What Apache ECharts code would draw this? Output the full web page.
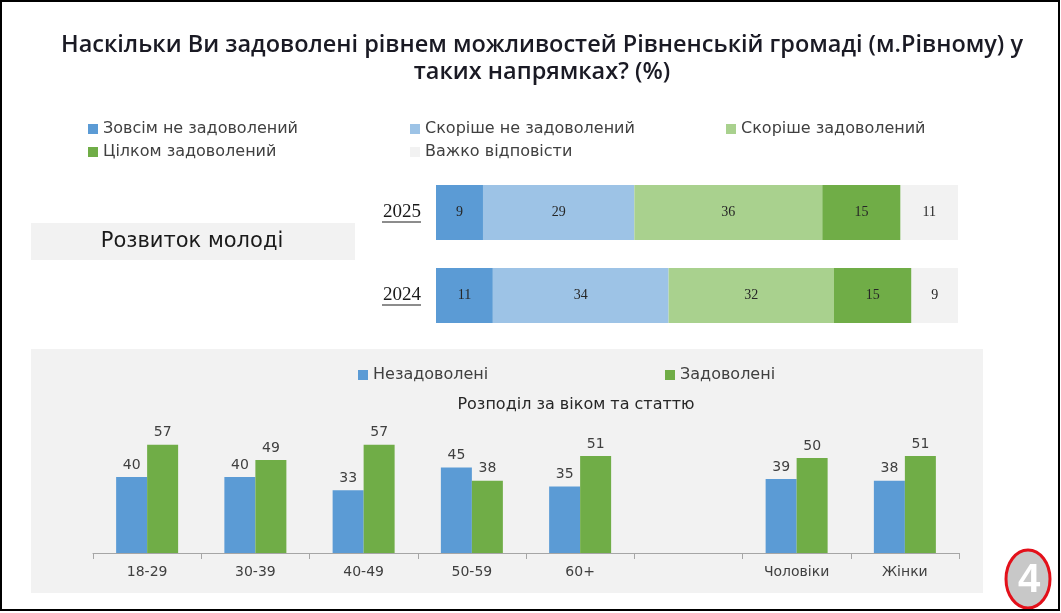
<!DOCTYPE html>
<html>
<head>
<meta charset="utf-8">
<script src="https://cdn.jsdelivr.net/npm/echarts@6/dist/echarts.min.js"></script>
<style>
html,body{margin:0;padding:0;background:#fff;}
#c{width:1061px;height:613px;}
</style>
</head>
<body>
<div id="c"></div>
<script>
// ---- Data ----
const years = ['2025', '2024'];
const topNames = ['Зовсім не задоволений', 'Скоріше не задоволений', 'Скоріше задоволений', 'Цілком задоволений', 'Важко відповісти'];
const veryDissatisfied = [9, 11];
const ratherDissatisfied = [29, 34];
const ratherSatisfied = [36, 32];
const fullySatisfied = [15, 15];
const hardToSay = [11, 9];

const groups = ['18-29', '30-39', '40-49', '50-59', '60+', '', 'Чоловіки', 'Жінки'];
const dissatisfied = [40, 40, 33, 45, 35, null, 39, 38];
const satisfied = [57, 49, 57, 38, 51, null, 50, 51];

const bottomNames = ['Незадоволені', 'Задоволені'];
const topic = 'Розвиток молоді';
const subtitle = 'Розподіл за віком та статтю';
const titleText = 'Наскільки Ви задоволені рівнем можливостей Рівненській громаді (м.Рівному) у\nтаких напрямках? (%)';

// ---- Build ----
const topColors = ['#5B9BD5', '#9DC3E6', '#A9D18E', '#70AD47', '#F2F2F2'];
const topValues = [veryDissatisfied, ratherDissatisfied, ratherSatisfied, fullySatisfied, hardToSay];
const rowTotals = years.map((_, i) => topValues.reduce((s, arr) => s + arr[i], 0));

const topSeries = topNames.map((name, k) => ({
  name: name,
  type: 'bar',
  stack: 'total',
  xAxisIndex: 0,
  yAxisIndex: 0,
  barWidth: 55,
  itemStyle: { color: topColors[k] },
  label: {
    show: true,
    position: 'inside',
    color: '#262626',
    fontFamily: 'Liberation Serif',
    fontSize: 14,
    formatter: p => topValues[k][p.dataIndex]
  },
  emphasis: { disabled: true },
  data: topValues[k].map((v, i) => v / rowTotals[i] * 100)
}));

const bottomColors = ['#5B9BD5', '#70AD47'];
const bottomValues = [dissatisfied, satisfied];
const bottomSeries = bottomNames.map((name, k) => ({
  name: name,
  type: 'bar',
  xAxisIndex: 1,
  yAxisIndex: 1,
  barWidth: 31,
  barGap: '0%',
  itemStyle: { color: bottomColors[k] },
  label: {
    show: true,
    position: 'top',
    distance: 5,
    color: '#404040',
    fontFamily: 'DejaVu Sans',
    fontSize: 14
  },
  emphasis: { disabled: true },
  data: bottomValues[k].map(v => (v === null ? '-' : v))
}));

const legendText = { color: '#404040', fontFamily: 'DejaVu Sans', fontSize: 16 };
function mkLegend(names, left, top) {
  return {
    data: names, left: left, top: top, orient: 'vertical',
    itemWidth: 10, itemHeight: 10, itemGap: 7, icon: 'rect',
    textStyle: legendText, selectedMode: false, padding: 0, itemStyle: {borderWidth: 0}
  };
}

const option = {
  backgroundColor: '#ffffff',
  animation: false,
  legend: [
    mkLegend([topNames[0], topNames[3]], 88, 121),
    mkLegend([topNames[1], topNames[4]], 410, 121),
    mkLegend([topNames[2]], 726, 121),
    mkLegend([bottomNames[0]], 358, 367),
    mkLegend([bottomNames[1]], 665, 367)
  ],
  grid: [
    { left: 436, right: 103, top: 171, height: 166 },
    { left: 93, right: 102, top: 363, bottom: 60 }
  ],
  xAxis: [
    { type: 'value', gridIndex: 0, min: 0, max: 100, show: false },
    {
      type: 'category', gridIndex: 1, data: groups,
      axisLine: { lineStyle: { color: '#A6A6A6', width: 1 } },
      axisTick: { show: true, length: 6, lineStyle: { color: '#A6A6A6' } },
      axisLabel: { color: '#404040', fontFamily: 'DejaVu Sans', fontSize: 14, margin: 12 }
    }
  ],
  yAxis: [
    {
      type: 'category', gridIndex: 0, data: years, inverse: true,
      axisLine: { show: false }, axisTick: { show: false },
      axisLabel: { color: '#1a1a1a', fontFamily: 'Liberation Serif', fontSize: 19, margin: 15 }
    },
    { type: 'value', gridIndex: 1, min: 0, max: 100, show: false, splitLine: { show: false } }
  ],
  graphic: [
    { type: 'text', z: 5, style: { x: 542, y: 58.5, text: titleText, textAlign: 'center', textVerticalAlign: 'middle', fill: '#1a1a24', font: '600 23.5px "Open Sans"', lineHeight: 27 } },
    { type: 'rect', z: -10, shape: { x: 31, y: 223, width: 324, height: 37 }, style: { fill: '#F2F2F2' } },
    { type: 'text', z: 5, style: { x: 192, y: 242, text: topic, textAlign: 'center', textVerticalAlign: 'middle', fill: '#1a1a1a', font: '21px "DejaVu Sans"' } },
    { type: 'rect', z: -10, shape: { x: 31, y: 349, width: 952, height: 244 }, style: { fill: '#F2F2F2' } },
    { type: 'text', z: 5, style: { x: 576, y: 405, text: subtitle, textAlign: 'center', textVerticalAlign: 'middle', fill: '#262626', font: '16px "DejaVu Sans"' } },
    { type: 'line', z: 5, shape: { x1: 382, y1: 222, x2: 421, y2: 222 }, style: { stroke: '#1a1a1a', lineWidth: 1 } },
    { type: 'line', z: 5, shape: { x1: 382, y1: 305, x2: 421, y2: 305 }, style: { stroke: '#1a1a1a', lineWidth: 1 } },
    { type: 'ellipse', z: 5, shape: { cx: 1028, cy: 579, rx: 22, ry: 29 }, style: { fill: '#C8C8C8', stroke: '#E3101A', lineWidth: 3 } },
    { type: 'text', z: 6, style: { x: 1029, y: 581, text: '4', textAlign: 'center', textVerticalAlign: 'middle', fill: '#ffffff', font: 'bold 40px "Liberation Sans"' } },
    { type: 'rect', z: 10, shape: { x: 1, y: 1, width: 1058, height: 609 }, style: { fill: 'none', stroke: '#000000', lineWidth: 2 } }
  ],
  series: topSeries.concat(bottomSeries)
};

const chart = echarts.init(document.getElementById('c'));
chart.setOption(option);
</script>
</body>
</html>
